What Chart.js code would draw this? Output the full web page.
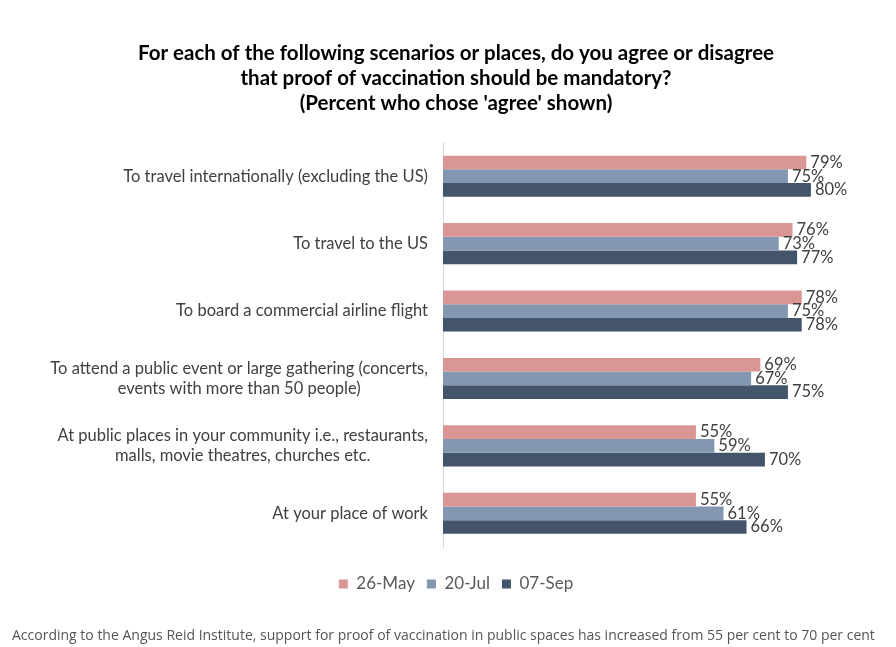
<!DOCTYPE html>
<html>
<head>
<meta charset="utf-8">
<script src="https://cdn.jsdelivr.net/npm/chart.js@4/dist/chart.umd.min.js"></script>
<style>
  html, body { margin: 0; padding: 0; background: #fff; }
  #wrap { position: relative; width: 896px; height: 647px; }
  #caption {
    position: absolute; left: 12px; top: 625px;
    font: 14px "Open Sans", sans-serif; color: #555; white-space: nowrap;
  }
</style>
</head>
<body>
<div id="wrap">
  <canvas id="myChart"></canvas>
  <div id="caption">According to the Angus Reid Institute, support for proof of vaccination in public spaces has increased from 55 per cent to 70 per cent</div>
</div>
<script>
// setup
const categories = [
  ['To travel internationally (excluding the US)'],
  ['To travel to the US'],
  ['To board a commercial airline flight'],
  ['To attend a public event or large gathering (concerts,', 'events with more than 50 people)'],
  ['At public places in your community i.e., restaurants,', 'malls, movie theatres, churches etc.'],
  ['At your place of work']
];
const seriesNames = ['26-May', '20-Jul', '07-Sep'];
const may26 = [79, 76, 78, 69, 55, 55];
const jul20 = [75, 73, 75, 67, 59, 61];
const sep07 = [80, 77, 78, 75, 70, 66];
const colors = ['#d99694', '#8497b0', '#44546a'];

const chartFont = 'Lato, "Open Sans", sans-serif';

// category labels + value labels
const labelPlugin = {
  id: 'labelPlugin',
  afterDatasetsDraw(chart) {
    const { ctx, chartArea: { left }, scales: { y } } = chart;
    ctx.save();
    ctx.fillStyle = '#404040';
    ctx.textBaseline = 'middle';

    // value labels
    ctx.font = '16.5px ' + chartFont;
    ctx.textAlign = 'left';
    chart.data.datasets.forEach((ds, di) => {
      chart.getDatasetMeta(di).data.forEach((bar, i) => {
        ctx.fillText(ds.data[i] + '%', bar.x + 4, bar.y);
      });
    });

    // category labels
    ctx.textAlign = 'center';
    const lineH = 20;
    categories.forEach((lines, i) => {
      const cy = y.getPixelForValue(i);
      const maxW = Math.max(...lines.map(l => ctx.measureText(l).width));
      const cx = left - 15 - maxW / 2;
      lines.forEach((l, k) => {
        ctx.fillText(l, cx, cy + (k - (lines.length - 1) / 2) * lineH);
      });
    });
    ctx.restore();
  }
};

const data = {
  labels: categories.map(c => c.join(' ')),
  datasets: [
    { label: seriesNames[0], data: may26, backgroundColor: colors[0] },
    { label: seriesNames[1], data: jul20, backgroundColor: colors[1] },
    { label: seriesNames[2], data: sep07, backgroundColor: colors[2] }
  ]
};

const config = {
  type: 'bar',
  data: data,
  options: {
    indexAxis: 'y',
    responsive: true,
    maintainAspectRatio: false,
    animation: false,
    datasets: {
      bar: { barPercentage: 1, categoryPercentage: 0.61, borderWidth: 0 }
    },
    layout: { padding: { left: 16, right: 0, top: 0, bottom: 44.5 } },
    plugins: {
      title: {
        display: true,
        text: [
          'For each of the following scenarios or places, do you agree or disagree',
          'that proof of vaccination should be mandatory?',
          "(Percent who chose 'agree' shown)"
        ],
        color: '#000',
        font: { family: chartFont, size: 20.5, weight: 'bold', lineHeight: 25 / 20.5 },
        padding: { top: 40.5, bottom: 27 }
      },
      legend: {
        position: 'bottom',
        labels: {
          boxWidth: 9,
          boxHeight: 9,
          padding: 12,
          color: '#595959',
          font: { family: chartFont, size: 17 }
        }
      },
      tooltip: { enabled: false }
    },
    scales: {
      x: {
        min: 0,
        max: 98.5,
        grid: { display: false },
        border: { display: false },
        ticks: { display: false },
        afterFit(scale) { scale.height = 16.5; }
      },
      y: {
        grid: { display: false },
        border: { display: true, color: '#d9d9d9', width: 1 },
        ticks: { display: false },
        afterFit(scale) { scale.width = 427; }
      }
    }
  },
  plugins: [labelPlugin]
};

// render init block
const myChart = new Chart(document.getElementById('myChart'), config);
</script>
</body>
</html>
